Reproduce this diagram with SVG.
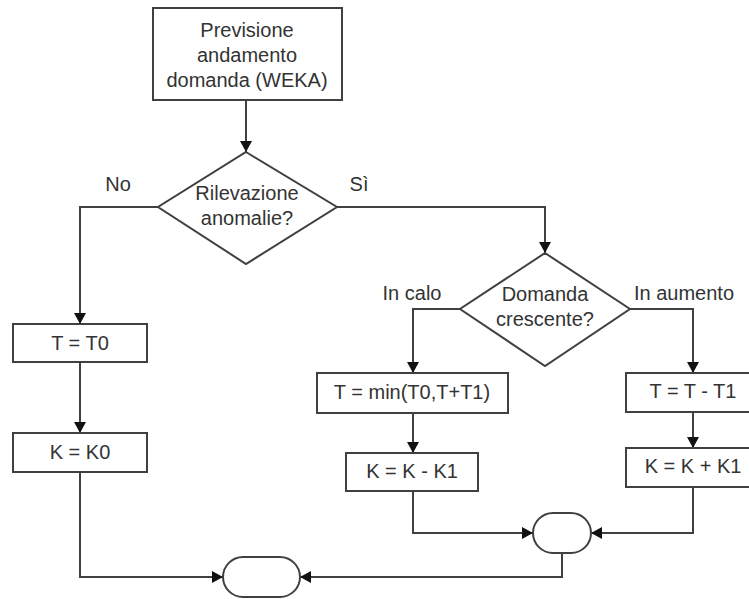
<svg xmlns="http://www.w3.org/2000/svg" width="749" height="599" viewBox="0 0 749 599">
  <style>
    .box { fill: #ffffff; stroke: #404040; stroke-width: 2; }
    .wire { fill: none; stroke: #404040; stroke-width: 2; }
    text { font-family: "Liberation Sans", Arial, sans-serif; font-size: 20px; fill: #333333; text-anchor: middle; }
  </style>
  <defs>
    <marker id="arrow" markerUnits="userSpaceOnUse" markerWidth="12" markerHeight="12" refX="11" refY="6" orient="auto">
      <path d="M0,0 L11,6 L0,12 z" fill="#111111"/>
    </marker>
  </defs>
  <rect width="749" height="599" fill="#ffffff"/>

  <g id="connectors">
    <path class="wire" d="M246,100 V152" marker-end="url(#arrow)"/>
    <path class="wire" d="M158,207 H80 V324" marker-end="url(#arrow)"/>
    <path class="wire" d="M80,362 V433" marker-end="url(#arrow)"/>
    <path class="wire" d="M80,472 V577 H223" marker-end="url(#arrow)"/>
    <path class="wire" d="M337,207 H545 V253" marker-end="url(#arrow)"/>
    <path class="wire" d="M460,309 H413 V373" marker-end="url(#arrow)"/>
    <path class="wire" d="M413,413 V453" marker-end="url(#arrow)"/>
    <path class="wire" d="M413,491 V533 H533" marker-end="url(#arrow)"/>
    <path class="wire" d="M630,309 H693 V373" marker-end="url(#arrow)"/>
    <path class="wire" d="M693,412 V448" marker-end="url(#arrow)"/>
    <path class="wire" d="M693,487 V533 H591" marker-end="url(#arrow)"/>
    <path class="wire" d="M562,553 V577 H300" marker-end="url(#arrow)"/>
    <text x="118" y="191">No</text>
    <text x="359" y="191">Sì</text>
    <text x="412" y="300">In calo</text>
    <text x="684" y="300">In aumento</text>
  </g>

  <g id="forecast">
    <rect class="box" x="153" y="8" width="189" height="92"/>
    <text x="247" y="37">Previsione</text>
    <text x="247" y="62">andamento</text>
    <text x="247" y="87">domanda (WEKA)</text>
  </g>

  <g id="anomaly-check">
    <polygon class="box" points="246,152 337,207 246,264 158,207"/>
    <text x="247" y="200">Rilevazione</text>
    <text x="247" y="225">anomalie?</text>
  </g>

  <g id="demand-check">
    <polygon class="box" points="545,253 630,309 545,366 460,309"/>
    <text x="545" y="301">Domanda</text>
    <text x="545" y="326">crescente?</text>
  </g>

  <g id="t-reset">
    <rect class="box" x="13" y="324" width="134" height="38"/>
    <text x="80" y="350">T = T0</text>
  </g>

  <g id="k-reset">
    <rect class="box" x="13" y="433" width="134" height="39"/>
    <text x="80" y="459">K = K0</text>
  </g>

  <g id="t-decrease-case">
    <rect class="box" x="317" y="373" width="191" height="40"/>
    <text x="412" y="399">T = min(T0,T+T1)</text>
  </g>

  <g id="k-decrease-case">
    <rect class="box" x="346" y="453" width="132" height="38"/>
    <text x="412" y="478">K = K - K1</text>
  </g>

  <g id="t-increase-case">
    <rect class="box" x="626" y="373" width="134" height="39"/>
    <text x="693" y="398">T = T - T1</text>
  </g>

  <g id="k-increase-case">
    <rect class="box" x="626" y="448" width="134" height="39"/>
    <text x="693" y="473">K = K + K1</text>
  </g>

  <g id="merge">
    <rect class="box" x="533" y="513" width="58" height="40" rx="20" ry="20"/>
  </g>

  <g id="end">
    <rect class="box" x="223" y="557" width="77" height="40" rx="20" ry="20"/>
  </g>
</svg>
